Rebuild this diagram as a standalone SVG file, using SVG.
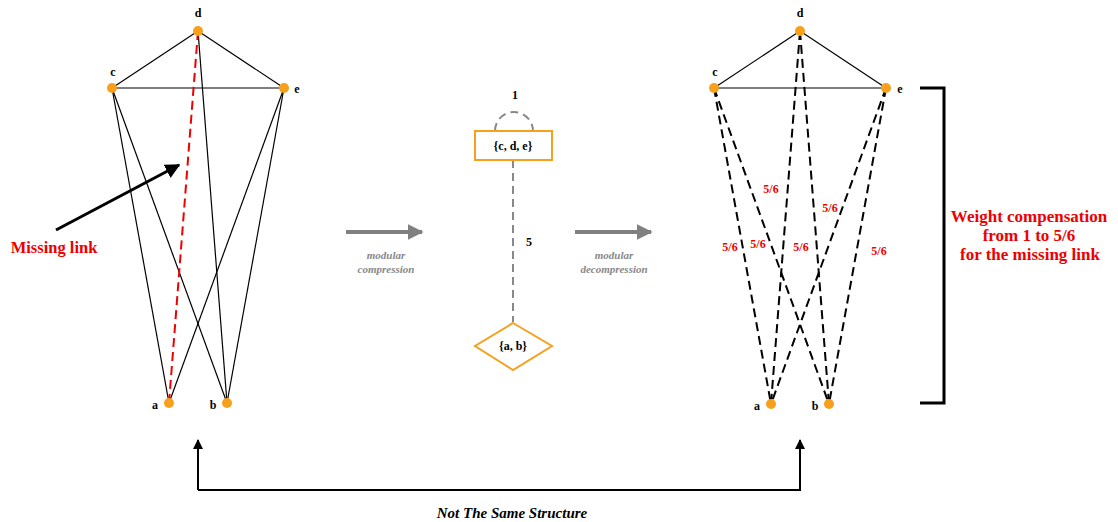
<svg xmlns="http://www.w3.org/2000/svg" width="1118" height="522" viewBox="0 0 1118 522">
<style>
text{font-family:"Liberation Serif","Times New Roman",serif;font-weight:bold}
.nl{font-size:12px;fill:#000}
.node{fill:#F7A01C}
.e{stroke:#000;stroke-width:1.2;fill:none}
.dash{stroke:#000;stroke-width:2;stroke-dasharray:9 5;fill:none}
.red{stroke:#E00;stroke-width:2;stroke-dasharray:9 5;fill:none}
.w{font-size:12px;fill:#E00}
.gray{font-size:11px;font-style:italic;fill:#888}
.ga{stroke:#808080;stroke-width:4;fill:none}
.org{fill:#fff;stroke:#F7A01C;stroke-width:2}
</style>
<defs>
<marker id="ah" viewBox="0 0 10 10" refX="9" refY="5" markerWidth="10" markerHeight="10" markerUnits="userSpaceOnUse" orient="auto"><path d="M0,0 L10,5 L0,10 z" fill="#000"/></marker>
<marker id="mh" viewBox="0 0 10 10" refX="9" refY="5" markerWidth="5" markerHeight="5" orient="auto"><path d="M0,0 L10,5 L0,10 z" fill="#000"/></marker>
<marker id="gh" viewBox="0 0 10 10" refX="9" refY="5" markerWidth="4" markerHeight="4.5" orient="auto"><path d="M0,0 L10,5 L0,10 z" fill="#808080"/></marker>
</defs>
<g id="connectors">
<line class="e" x1="198" y1="31" x2="112" y2="88"/>
<line class="e" x1="198" y1="31" x2="284" y2="88"/>
<line class="e" x1="112" y1="88" x2="284" y2="88"/>
<line class="e" x1="198" y1="31" x2="227" y2="403"/>
<line class="e" x1="112" y1="88" x2="169" y2="403"/>
<line class="e" x1="112" y1="88" x2="227" y2="403"/>
<line class="e" x1="284" y1="88" x2="169" y2="403"/>
<line class="e" x1="284" y1="88" x2="227" y2="403"/>
<line class="red" x1="198" y1="31" x2="169" y2="403"/>
<line x1="56" y1="230" x2="179" y2="165" stroke="#000" stroke-width="3" marker-end="url(#mh)"/>
<line class="e" x1="800" y1="31" x2="714" y2="88"/>
<line class="e" x1="800" y1="31" x2="886" y2="88"/>
<line class="e" x1="714" y1="88" x2="886" y2="88"/>
<line class="dash" x1="714" y1="88" x2="771" y2="404"/>
<line class="dash" x1="714" y1="88" x2="829" y2="404"/>
<line class="dash" x1="800" y1="31" x2="771" y2="404"/>
<line class="dash" x1="800" y1="31" x2="829" y2="404"/>
<line class="dash" x1="886" y1="88" x2="771" y2="404"/>
<line class="dash" x1="886" y1="88" x2="829" y2="404"/>
<path d="M495,131 A19,19 0 1 1 533,131" stroke="#888" stroke-width="2" stroke-dasharray="8 5" fill="none"/>
<line x1="513" y1="160" x2="513" y2="322" stroke="#888" stroke-width="2" stroke-dasharray="8 5"/>
<line class="ga" x1="346" y1="232" x2="422" y2="232" marker-end="url(#gh)"/>
<line class="ga" x1="575" y1="232" x2="651" y2="232" marker-end="url(#gh)"/>
<path d="M920,88 H944 V403 H920" stroke="#000" stroke-width="3" fill="none"/>
<path d="M198,490 V446 M198,490 H800 V446" stroke="#000" stroke-width="2" fill="none"/>
<line x1="198" y1="450" x2="198" y2="440" stroke="#000" stroke-width="2" marker-end="url(#ah)"/>
<line x1="800" y1="450" x2="800" y2="440" stroke="#000" stroke-width="2" marker-end="url(#ah)"/>
</g>
<g id="left-d"><circle class="node" cx="198" cy="31" r="5"/><text class="nl" x="198" y="17" text-anchor="middle">d</text></g>
<g id="left-c"><circle class="node" cx="112" cy="88" r="5"/><text class="nl" x="113" y="76" text-anchor="middle">c</text></g>
<g id="left-e"><circle class="node" cx="284" cy="88" r="5"/><text class="nl" x="297" y="93" text-anchor="middle">e</text></g>
<g id="left-a"><circle class="node" cx="169" cy="403" r="5"/><text class="nl" x="155" y="409" text-anchor="middle">a</text></g>
<g id="left-b"><circle class="node" cx="227" cy="403" r="5"/><text class="nl" x="213" y="409" text-anchor="middle">b</text></g>
<g id="right-d"><circle class="node" cx="800" cy="31" r="5"/><text class="nl" x="800" y="17" text-anchor="middle">d</text></g>
<g id="right-c"><circle class="node" cx="714" cy="88" r="5"/><text class="nl" x="715" y="76" text-anchor="middle">c</text></g>
<g id="right-e"><circle class="node" cx="886" cy="88" r="5"/><text class="nl" x="900" y="93" text-anchor="middle">e</text></g>
<g id="right-a"><circle class="node" cx="771" cy="404" r="5"/><text class="nl" x="757" y="410" text-anchor="middle">a</text></g>
<g id="right-b"><circle class="node" cx="829" cy="404" r="5"/><text class="nl" x="815" y="410" text-anchor="middle">b</text></g>
<g id="module-cde"><rect class="org" x="475" y="131" width="77" height="29"/><text class="nl" x="513" y="150" text-anchor="middle">{c, d, e}</text></g>
<g id="module-ab"><polygon class="org" points="513,323 552,346 513,370 475,346"/><text class="nl" x="513" y="350" text-anchor="middle">{a, b}</text></g>
<g id="labels">
<text class="nl" x="515" y="99" text-anchor="middle">1</text>
<text class="nl" x="529" y="246" text-anchor="middle">5</text>
<text class="gray" x="386" y="259" text-anchor="middle">modular</text>
<text class="gray" x="386" y="273" text-anchor="middle">compression</text>
<text class="gray" x="614" y="259" text-anchor="middle">modular</text>
<text class="gray" x="614" y="273" text-anchor="middle">decompression</text>
<text x="54" y="253" text-anchor="middle" font-size="16.5" fill="#E00">Missing link</text>
<text class="w" x="771" y="193" text-anchor="middle">5/6</text>
<text class="w" x="830" y="212" text-anchor="middle">5/6</text>
<text class="w" x="730" y="251" text-anchor="middle">5/6</text>
<text class="w" x="758" y="248" text-anchor="middle">5/6</text>
<text class="w" x="801" y="251" text-anchor="middle">5/6</text>
<text class="w" x="879" y="255" text-anchor="middle">5/6</text>
<text x="1029" y="222" text-anchor="middle" font-size="17" fill="#E00">Weight compensation</text>
<text x="1029" y="241" text-anchor="middle" font-size="17" fill="#E00">from 1 to 5/6</text>
<text x="1030" y="260" text-anchor="middle" font-size="17" fill="#E00">for the missing link</text>
<text x="512" y="518" text-anchor="middle" font-size="15" font-style="italic" fill="#000">Not The Same Structure</text>
</g>
</svg>
